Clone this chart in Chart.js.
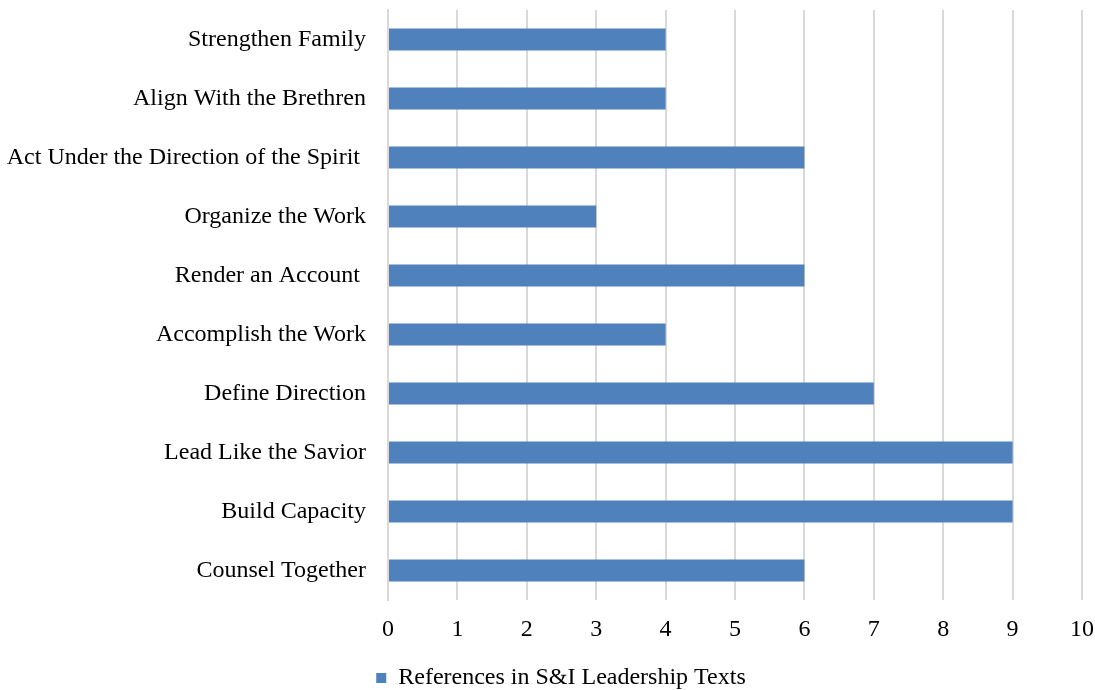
<!DOCTYPE html>
<html>
<head>
<meta charset="utf-8">
<script src="https://cdn.jsdelivr.net/npm/chart.js@4"></script>
<style>
  html, body { margin: 0; padding: 0; background: #fff; }
  #wrap { width: 1095px; height: 690px; }
</style>
</head>
<body>
<div id="wrap"><canvas id="chart" width="1095" height="690"></canvas></div>
<script>
// categories top to bottom, as in the picture
const categories = [
  'Strengthen Family',
  'Align With the Brethren',
  'Act Under the Direction of the Spirit ',
  'Organize the Work',
  'Render an Account ',
  'Accomplish the Work',
  'Define Direction',
  'Lead Like the Savior',
  'Build Capacity',
  'Counsel Together'
];
const references = [4, 4, 6, 3, 6, 4, 7, 9, 9, 6];
const xTicks = [0, 1, 2, 3, 4, 5, 6, 7, 8, 9, 10];
const seriesName = 'References in S&I Leadership Texts';

const BAR = '#4f81bd';
const GRID = '#d9d9d9';

Chart.defaults.font.family = "'Liberation Serif', 'Times New Roman', serif";
Chart.defaults.font.size = 24;
Chart.defaults.color = '#000';

// the legend in the original sits a little right of the canvas centre
const legendShift = {
  id: 'legendShift',
  afterLayout: function (chart) {
    if (!chart.legend) return;
    chart.legend.left += 20;
    chart.legend.right += 20;
  },
};

new Chart(document.getElementById('chart').getContext('2d'), {
  type: 'bar',
  data: {
    labels: categories,
    datasets: [{
      label: seriesName,
      data: references,
      backgroundColor: BAR,
      borderWidth: 0,
      categoryPercentage: 1,
      barPercentage: 0.37,
    }],
  },
  plugins: [legendShift],
  options: {
    indexAxis: 'y',
    responsive: false,
    animation: false,
    layout: { padding: { top: 10, right: 13, left: 0, bottom: 0 } },
    plugins: {
      legend: {
        position: 'bottom',
        maxHeight: 24,
        labels: { boxWidth: 10, boxHeight: 10, padding: 0, color: '#000' },
      },
      tooltip: { enabled: false },
    },
    scales: {
      x: {
        min: xTicks[0],
        max: xTicks[xTicks.length - 1],
        afterBuildTicks: function (s) { s.ticks = xTicks.map(function (v) { return { value: v }; }); },
        grid: { color: GRID, lineWidth: 2, drawTicks: false },
        border: { display: false },
        ticks: { padding: 15, color: '#000' },
        afterFit: function (s) { s.height = 66; s.paddingLeft = 0; s.paddingRight = 0; },
      },
      y: {
        grid: { display: false, drawTicks: false },
        border: { display: true, color: GRID, width: 2 },
        ticks: { padding: 22, color: '#000', autoSkip: false },
        afterFit: function (s) { s.width = 388; s.paddingTop = 0; s.paddingBottom = 0; },
      },
    },
  },
});
</script>
</body>
</html>
